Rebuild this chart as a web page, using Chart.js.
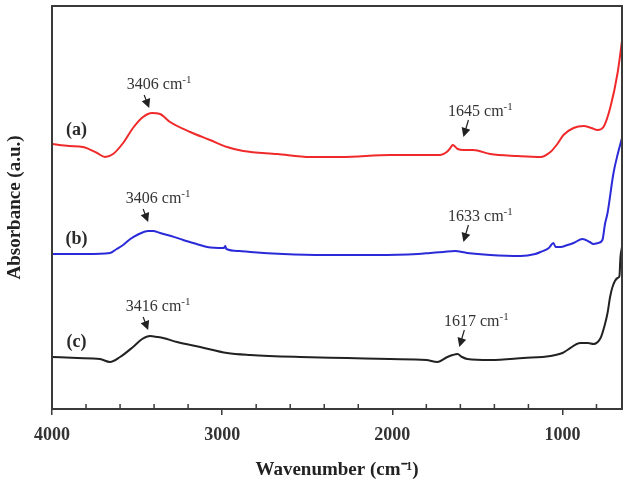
<!DOCTYPE html>
<html><head><meta charset="utf-8">
<script src="https://cdn.jsdelivr.net/npm/chart.js@4.4.0/dist/chart.umd.min.js"></script>
<style>html,body{margin:0;padding:0;background:#fff}#wrap{width:628px;height:491px}</style>
</head><body><div id="wrap"><canvas id="c"></canvas></div>
<script>
// Wavenumbers (cm-1) and absorbance (arbitrary units, offset traces)
const redX=[4000,3900,3818,3735,3688,3641,3582,3524,3465,3412,3365,3306,3188,3071,2971,2876,2676,2482,2300,2012,1718,1680,1659,1645,1615,1582,1524,1424,1265,1129,1071,1030,994,935,876,830,794,759,718,676,650];
const redY=[265,263,262,256,252,255,266,281,292,296,295,287,277,269,262,258,255,252,252,254,254,257,261,264,260,259,259,255,253,252,257,265,274,281,283,281,279,282,302,336,368];
const blueX=[4000,3800,3659,3620,3582,3540,3500,3435,3406,3365,3300,3229,3150,3088,2990,2982,2975,2900,2835,2641,2400,2100,1850,1776,1700,1633,1560,1424,1247,1160,1129,1080,1053,1040,1012,970,935,882,840,818,790,765,750,735,700,675,650];
const blueY=[155,155,156,160,164,170,174,178,178,176,173,169,165,162,161,163,160,158,157,155,154,154,155,156,157,158,156,154,153,155,157,161,166,162,162,164,166,170,167,165,166,169,185,196,236,255,271];
const blackX=[4000,3850,3718,3659,3600,3524,3470,3424,3380,3347,3265,3129,2971,2835,2541,2265,2012,1800,1735,1676,1645,1617,1590,1559,1424,1229,1071,1000,971,894,850,818,776,750,735,720,706,676,665,659,650];
const blackY=[52,51,50,47,52,62,70,73,72,71,67,62,56,54,52,51,50,49,47,52,54,55,52,50,49,51,53,56,59,66,66,65,71,85,96,112,122,131,133,152,162];
const xTicks=[4000,3000,2000,1000];
const minorTicks=[3800,3600,3400,3200,2800,2600,2400,2200,1800,1600,1400,1200,800];
const sampleLabels=['(a)','(b)','(c)'];
const sampleLabelPos=[[3856,279],[3856,170],[3856,67]];
const peakLabels=['3406','1645','3406','1633','3416','1617'];
const peakTips=[[3429,301],[1582,272],[3435,187],[1582,167],[3435,79],[1606,62]];

const serif='"Liberation Serif","Times New Roman",serif';
const toPts=(xs,ys)=>xs.map((x,i)=>({x:x,y:ys[i]}));

const decor={
  id:'decor',
  afterDatasetsDraw(chart){
    const {ctx,chartArea:a,scales:{x,y}}=chart;
    ctx.save();
    // frame
    ctx.strokeStyle='#3a3a3a';ctx.lineWidth=2;
    ctx.strokeRect(a.left,a.top,a.right-a.left,a.bottom-a.top);
    // minor inward ticks
    ctx.lineWidth=1.5;
    minorTicks.forEach(v=>{const px=x.getPixelForValue(v);ctx.beginPath();ctx.moveTo(px,a.bottom);ctx.lineTo(px,a.bottom-5);ctx.stroke();});
    // sample labels
    ctx.fillStyle='#2a2a2a';ctx.font='bold 18px '+serif;ctx.textAlign='center';ctx.textBaseline='middle';
    sampleLabels.forEach((t,i)=>{ctx.fillText(t,x.getPixelForValue(sampleLabelPos[i][0]),y.getPixelForValue(sampleLabelPos[i][1]));});
    // peak annotations
    ctx.textBaseline='alphabetic';
    peakLabels.forEach((t,i)=>{
      const tx=x.getPixelForValue(peakTips[i][0]), ty=y.getPixelForValue(peakTips[i][1]);
      const left=peakTips[i][0]>2500;
      const sx=left?tx-5:tx+5, sy=left?ty-13:ty-17;
      const cx=left?tx+10:tx+17, by=left?ty-19:ty-21;
      // arrow
      ctx.strokeStyle='#222';ctx.fillStyle='#222';ctx.lineWidth=1.2;
      const ang=Math.atan2(ty-sy,tx-sx);
      ctx.beginPath();ctx.moveTo(sx,sy);ctx.lineTo(tx-Math.cos(ang)*6,ty-Math.sin(ang)*6);ctx.stroke();
      ctx.beginPath();ctx.moveTo(tx,ty);
      ctx.lineTo(tx-Math.cos(ang)*9+Math.sin(ang)*4.5,ty-Math.sin(ang)*9-Math.cos(ang)*4.5);
      ctx.lineTo(tx-Math.cos(ang)*9-Math.sin(ang)*4.5,ty-Math.sin(ang)*9+Math.cos(ang)*4.5);
      ctx.closePath();ctx.fill();
      // text with superscript
      const main=t+' cm', sup='-1';
      ctx.font='16px '+serif;const w1=ctx.measureText(main).width;
      ctx.font='11px '+serif;const w2=ctx.measureText(sup).width;
      const x0=cx-(w1+w2)/2;
      ctx.fillStyle='#333';ctx.textAlign='left';
      ctx.font='16px '+serif;ctx.fillText(main,x0,by);
      ctx.font='11px '+serif;ctx.fillText(sup,x0+w1,by-6);
    });
    ctx.restore();
  }
};

new Chart(document.getElementById('c'),{
  type:'line',
  data:{datasets:[
    {data:toPts(redX,redY),borderColor:'#f02a2a'},
    {data:toPts(blueX,blueY),borderColor:'#2a2ad8'},
    {data:toPts(blackX,blackY),borderColor:'#222222'}
  ]},
  options:{
    responsive:true,maintainAspectRatio:false,animation:false,
    layout:{padding:{top:6,right:6,left:0,bottom:0}},
    plugins:{legend:{display:false},tooltip:{enabled:false}},
    elements:{point:{radius:0},line:{borderWidth:2,cubicInterpolationMode:'monotone',fill:false}},
    scales:{
      x:{type:'linear',reverse:true,min:650,max:4000,
        afterBuildTicks:s=>{s.ticks=xTicks.map(v=>({value:v}));},
        afterFit:s=>{s.height=82;},
        grid:{drawOnChartArea:false,drawTicks:true,tickLength:6,color:'#3a3a3a',lineWidth:1.5},
        border:{display:false},
        ticks:{padding:10,color:'#333',maxRotation:0,font:{family:serif,size:18,weight:'bold'},callback:v=>String(v)},
        title:{display:true,text:'Wavenumber (cm⁻¹)',color:'#222',font:{family:serif,size:19,weight:'bold'},padding:{top:0,bottom:10}}
      },
      y:{min:0,max:403,
        afterFit:s=>{s.width=52;},
        ticks:{display:false},grid:{display:false},border:{display:false},
        title:{display:true,text:'Absorbance (a.u.)',color:'#222',font:{family:serif,size:19,weight:'bold'},padding:{top:4,bottom:0}}
      }
    }
  },
  plugins:[decor]
});
</script></body></html>
